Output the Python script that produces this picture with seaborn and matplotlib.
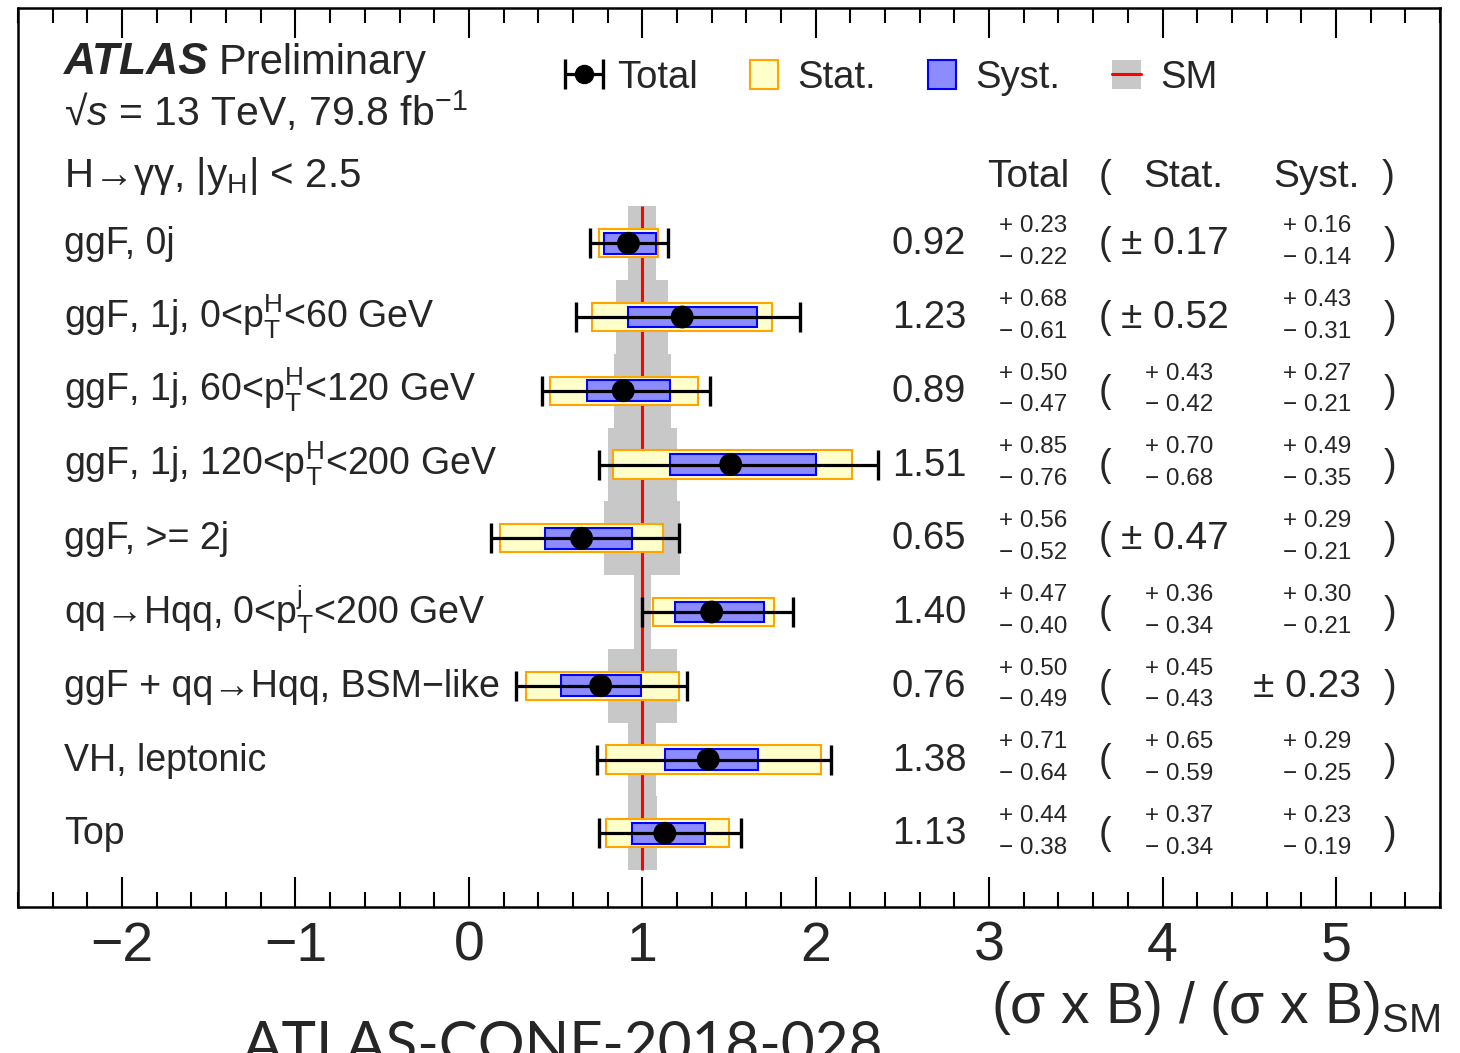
import numpy as np
import pandas as pd
import matplotlib
matplotlib.use("Agg")
import matplotlib.pyplot as plt
import seaborn as sns
from matplotlib.patches import Patch
from matplotlib.lines import Line2D
from matplotlib.ticker import MultipleLocator

# ---------------- data ----------------
categories = [
    "ggF, 0j",
    r"ggF, 1j, 0<$\mathrm{p}_{\mathrm{T}}^{\mathrm{H}}$<60 GeV",
    r"ggF, 1j, 60<$\mathrm{p}_{\mathrm{T}}^{\mathrm{H}}$<120 GeV",
    r"ggF, 1j, 120<$\mathrm{p}_{\mathrm{T}}^{\mathrm{H}}$<200 GeV",
    "ggF, >= 2j",
    r"qq→Hqq, 0<$\mathrm{p}_{\mathrm{T}}^{\mathrm{j}}$<200 GeV",
    "ggF + qq→Hqq, BSM−like",
    "VH, leptonic",
    "Top",
]
central = [0.92, 1.23, 0.89, 1.51, 0.65, 1.40, 0.76, 1.38, 1.13]
tot_up = [0.23, 0.68, 0.50, 0.85, 0.56, 0.47, 0.50, 0.71, 0.44]
tot_dn = [0.22, 0.61, 0.47, 0.76, 0.52, 0.40, 0.49, 0.64, 0.38]
stat_up = [0.17, 0.52, 0.43, 0.70, 0.47, 0.36, 0.45, 0.65, 0.37]
stat_dn = [0.17, 0.52, 0.42, 0.68, 0.47, 0.34, 0.43, 0.59, 0.34]
syst_up = [0.16, 0.43, 0.27, 0.49, 0.29, 0.30, 0.23, 0.29, 0.23]
syst_dn = [0.14, 0.31, 0.21, 0.35, 0.21, 0.21, 0.23, 0.25, 0.19]
sm_value = 1.0
sm_unc = [0.08, 0.15, 0.165, 0.20, 0.22, 0.05, 0.20, 0.08, 0.085]
x_ticks = [-2, -1, 0, 1, 2, 3, 4, 5]

df = pd.DataFrame({
    "category": categories,
    "row": np.arange(len(categories)),
    "central": central,
    "tot_up": tot_up, "tot_dn": tot_dn,
    "stat_up": stat_up, "stat_dn": stat_dn,
    "syst_up": syst_up, "syst_dn": syst_dn,
    "sm_unc": sm_unc,
})

# ---------------- style ----------------
sns.set_theme(style="ticks")
FONT = ["Liberation Sans", "DejaVu Sans"]
plt.rcParams["font.family"] = FONT
plt.rcParams["mathtext.fontset"] = "custom"
plt.rcParams["mathtext.rm"] = "Liberation Sans"
plt.rcParams["mathtext.it"] = "Liberation Sans:italic"
plt.rcParams["mathtext.bf"] = "Liberation Sans:bold"
plt.rcParams["mathtext.sf"] = "Liberation Sans"
plt.rcParams["axes.unicode_minus"] = True

fig = plt.figure(figsize=(14.6, 10.53), dpi=100)
ax = fig.add_axes([18 / 1460, 1 - 907 / 1053, 1422 / 1460, 899 / 1053])

rows = df["row"].to_numpy()
c = df["central"].to_numpy()

# SM band and line
ax.barh(rows, 2 * df["sm_unc"], left=sm_value - df["sm_unc"], height=1.0,
        color="#c8c8c8", linewidth=0, zorder=1)
ax.vlines(sm_value, rows.min() - 0.5, rows.max() + 0.5, color="#ff0000", lw=2.2, zorder=2)

# Stat boxes
ax.barh(rows, df["stat_up"] + df["stat_dn"], left=c - df["stat_dn"], height=0.38,
        facecolor="#ffffcc", edgecolor="#ffa500", linewidth=1.5, zorder=3)
# Syst boxes
ax.barh(rows, df["syst_up"] + df["syst_dn"], left=c - df["syst_dn"], height=0.28,
        facecolor="#8c8cff", edgecolor="#0000ff", linewidth=1.5, zorder=4)
# Total error bars
eb = ax.errorbar(c, rows, xerr=[df["tot_dn"], df["tot_up"]], fmt="none",
                 ecolor="black", elinewidth=2.3, capsize=11, capthick=2.4, zorder=5)
sns.scatterplot(data=df, x="central", y="row", color="black", s=270,
                edgecolor="none", ax=ax, zorder=6, legend=False)

ax.set_xlim(-2.6, 5.6)
ax.set_ylim(9.0, -3.19)
ax.set_ylabel("")
ax.set_yticks([])
ax.xaxis.set_minor_locator(MultipleLocator(0.2))
ax.set_xticks(x_ticks)
ax.set_xticklabels([f"{t}".replace("-", "−") for t in x_ticks])
ax.tick_params(axis="x", which="both", direction="in", top=True, bottom=True,
               width=1.5, color="black")
ax.tick_params(axis="x", which="major", length=21.5, labelsize=40, pad=10)
ax.tick_params(axis="x", which="minor", length=10.8)
for s in ax.spines.values():
    s.set_linewidth(1.8)
    s.set_color("black")
    s.set_visible(True)

ax.set_xlabel(r"(σ x B) / (σ x B)$_{\mathrm{SM}}$", fontsize=41, loc="right")
ax.xaxis.set_label_coords(1.0, -0.080)
ax.xaxis.label.set_va("top")
ax.xaxis.label.set_ha("right")

# ---------------- texts ----------------
LBL = 27
SMALL = 17.5
x_label = -2.334
for r, lab in zip(rows, categories):
    ax.text(x_label, r + 0.15, lab, fontsize=LBL, ha="left", va="baseline")


def fmt(v):
    return f"{v:.2f}"


for r, row in df.iterrows():
    y = row["row"]
    ax.text(2.438, y + 0.15, fmt(row["central"]), fontsize=27.5, ha="left", va="baseline")
    ax.text(3.055, y - 0.15, "+ " + fmt(row["tot_up"]), fontsize=SMALL, ha="left", va="baseline")
    ax.text(3.055, y + 0.28, "− " + fmt(row["tot_dn"]), fontsize=SMALL, ha="left", va="baseline")
    ax.text(3.63, y + 0.15, "(", fontsize=LBL, ha="left", va="baseline")
    if row["stat_up"] == row["stat_dn"]:
        ax.text(3.758, y + 0.15, "± " + fmt(row["stat_up"]), fontsize=28, ha="left", va="baseline")
    else:
        ax.text(3.90, y - 0.15, "+ " + fmt(row["stat_up"]), fontsize=SMALL, ha="left", va="baseline")
        ax.text(3.90, y + 0.28, "− " + fmt(row["stat_dn"]), fontsize=SMALL, ha="left", va="baseline")
    if row["syst_up"] == row["syst_dn"]:
        ax.text(4.524, y + 0.15, "± " + fmt(row["syst_up"]), fontsize=28, ha="left", va="baseline")
    else:
        ax.text(4.697, y - 0.15, "+ " + fmt(row["syst_up"]), fontsize=SMALL, ha="left", va="baseline")
        ax.text(4.697, y + 0.28, "− " + fmt(row["syst_dn"]), fontsize=SMALL, ha="left", va="baseline")
    ax.text(5.274, y + 0.15, ")", fontsize=LBL, ha="left", va="baseline")

# header row
yh = -0.76
HDR = 28
ax.text(2.986, yh, "Total", fontsize=HDR, ha="left", va="baseline")
ax.text(3.63, yh, "(", fontsize=HDR, ha="left", va="baseline")
ax.text(3.89, yh, "Stat.", fontsize=HDR, ha="left", va="baseline")
ax.text(4.64, yh, "Syst.", fontsize=HDR, ha="left", va="baseline")
ax.text(5.262, yh, ")", fontsize=HDR, ha="left", va="baseline")

# ATLAS label
ax.text(-2.334, -2.29, "ATLAS", fontsize=32, fontweight="bold", fontstyle="italic",
        ha="left", va="baseline")
ax.text(-1.441, -2.29, "Preliminary", fontsize=30, ha="left", va="baseline")
ax.text(-2.334, -1.6, r"√$s$ = 13 TeV, 79.8 fb$^{−1}$", fontsize=29.5, ha="left", va="baseline")
ax.text(-2.334, -0.76, r"H→γγ, |y$_{\mathrm{H}}$| < 2.5", fontsize=29, ha="left", va="baseline")

# legend
tot_handle = (eb, Line2D([], [], marker="o", color="black", ls="none", markersize=13))
stat_handle = Patch(facecolor="#ffffcc", edgecolor="#ffa500", linewidth=1.5)
syst_handle = Patch(facecolor="#8c8cff", edgecolor="#0000ff", linewidth=1.5)
sm_handle = (Patch(facecolor="#c8c8c8", edgecolor="none"),
             Line2D([], [], color="#ff0000", lw=2.2))
leg = ax.legend([tot_handle, stat_handle, syst_handle, sm_handle],
                ["Total", "Stat.", "Syst.", "SM"],
                loc="center left", bbox_to_anchor=(0.388, 0.922), ncol=4,
                frameon=False, fontsize=27.5, handlelength=0.75, handleheight=0.8,
                handletextpad=0.5, columnspacing=1.35, borderpad=0, borderaxespad=0)

# document reference at bottom (clipped by figure edge, as in the source image)
fig.text(243 / 1460, 1 - 1020 / 1053, "ATLAS-CONF-2018-028", fontsize=42,
         family=["Lato", "DejaVu Sans"], ha="left", va="top")

fig.savefig("out.png", dpi=100)
